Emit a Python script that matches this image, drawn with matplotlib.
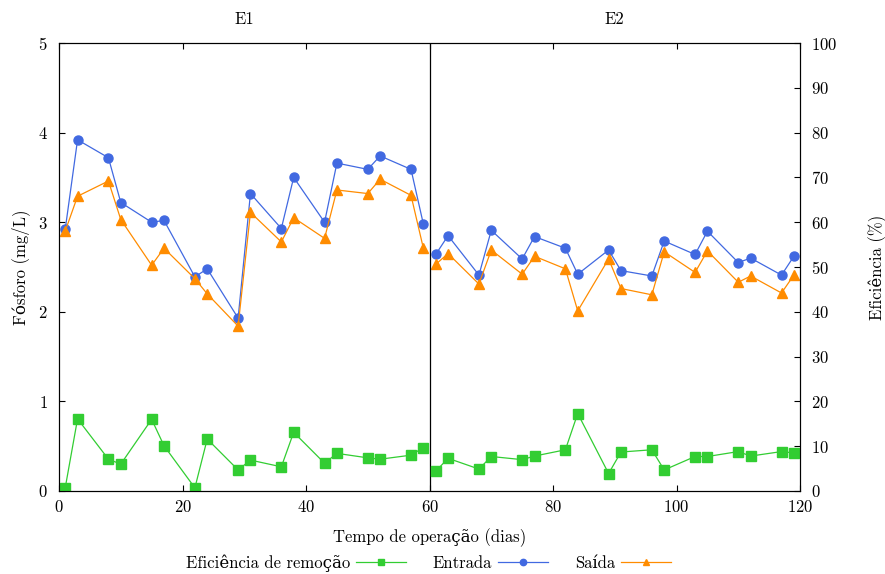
import numpy as np
import matplotlib.pyplot as plt

plt.rcParams['font.family'] = ['cmr10', 'DejaVu Serif']
plt.rcParams['mathtext.fontset'] = 'cm'
plt.rcParams['axes.formatter.use_mathtext'] = True

# dias de operacao
dias_e1 = [1, 3, 8, 10, 15, 17, 22, 24, 29, 31, 36, 38, 43, 45, 50, 52, 57, 59]
dias_e2 = [61, 63, 68, 70, 75, 77, 82, 84, 89, 91, 96, 98, 103, 105, 110, 112, 117, 119]

# fosforo (mg/L)
entrada_e1 = [2.92, 3.92, 3.72, 3.22, 3.00, 3.02, 2.39, 2.48, 1.93, 3.32, 2.93, 3.50,
              3.00, 3.66, 3.59, 3.74, 3.59, 2.98]
saida_e1 = [2.90, 3.29, 3.46, 3.03, 2.52, 2.71, 2.37, 2.20, 1.84, 3.11, 2.78, 3.05,
            2.82, 3.36, 3.32, 3.48, 3.30, 2.71]
entrada_e2 = [2.64, 2.85, 2.41, 2.91, 2.59, 2.84, 2.71, 2.42, 2.69, 2.46, 2.40, 2.79,
              2.64, 2.90, 2.55, 2.60, 2.41, 2.62]
saida_e2 = [2.53, 2.65, 2.31, 2.69, 2.42, 2.62, 2.48, 2.01, 2.59, 2.26, 2.19, 2.67,
            2.44, 2.68, 2.33, 2.40, 2.21, 2.41]

# eficiencia de remocao (%)
efic_e1 = [0.7, 16.1, 7.1, 6.0, 16.0, 10.1, 0.7, 11.6, 4.7, 6.9, 5.4, 13.1,
           6.2, 8.4, 7.4, 7.1, 8.0, 9.7]
efic_e2 = [4.4, 7.3, 4.9, 7.7, 7.0, 7.8, 9.2, 17.3, 3.9, 8.7, 9.2, 4.7,
           7.7, 7.7, 8.8, 7.8, 8.8, 8.5]

azul = '#4169e1'
laranja = '#ff8c00'
verde = '#32cd32'

fig = plt.figure(figsize=(8.85, 5.74), dpi=100)
ax = fig.add_axes([0.0667, 0.1446, 0.8373, 0.7804])
ax2 = ax.twinx()

for d, y in [(dias_e1, entrada_e1), (dias_e2, entrada_e2)]:
    l_ent, = ax.plot(d, y, color=azul, lw=0.9, marker='o', ms=6.5, label='Entrada')
for d, y in [(dias_e1, saida_e1), (dias_e2, saida_e2)]:
    l_sai, = ax.plot(d, y, color=laranja, lw=0.9, marker='^', ms=6.5, label='Saída')
for d, y in [(dias_e1, efic_e1), (dias_e2, efic_e2)]:
    l_ef, = ax2.plot(d, y, color=verde, lw=0.9, marker='s', ms=6.5,
                     label='Eficiência de remoção')

ax.axvline(60, color='black', lw=0.9)

ax.set_xlim(0, 120)
ax.set_ylim(0, 5)
ax2.set_ylim(0, 100)
ax.set_xticks([0, 20, 40, 60, 80, 100, 120])
ax.set_yticks([0, 1, 2, 3, 4, 5])
ax2.set_yticks(np.arange(0, 101, 10))

ax.tick_params(axis='x', direction='in', top=True, length=4, labelsize=12, pad=6)
ax.tick_params(axis='y', direction='in', length=4, labelsize=12, pad=8)
ax2.tick_params(axis='y', direction='in', length=4, labelsize=12, pad=8)

ax.set_xlabel('Tempo de operação (dias)', fontsize=12, labelpad=9)
ax.set_ylabel('Fósforo (mg/L)', fontsize=12, labelpad=6)
ax2.set_ylabel('Eficiência (%)', fontsize=12, labelpad=22)

ax.text(30, 1.035, 'E1', transform=ax.get_xaxis_transform(), ha='center',
        va='bottom', fontsize=12)
ax.text(90, 1.035, 'E2', transform=ax.get_xaxis_transform(), ha='center',
        va='bottom', fontsize=12)

fig.legend(handles=[l_ef, l_ent, l_sai], loc='lower center',
           bbox_to_anchor=(0.484, -0.022), ncol=3, frameon=False, markerfirst=False,
           fontsize=12, handlelength=3.0, handletextpad=0.35, columnspacing=1.6,
           markerscale=0.7)

fig.savefig('out.png', dpi=100)
